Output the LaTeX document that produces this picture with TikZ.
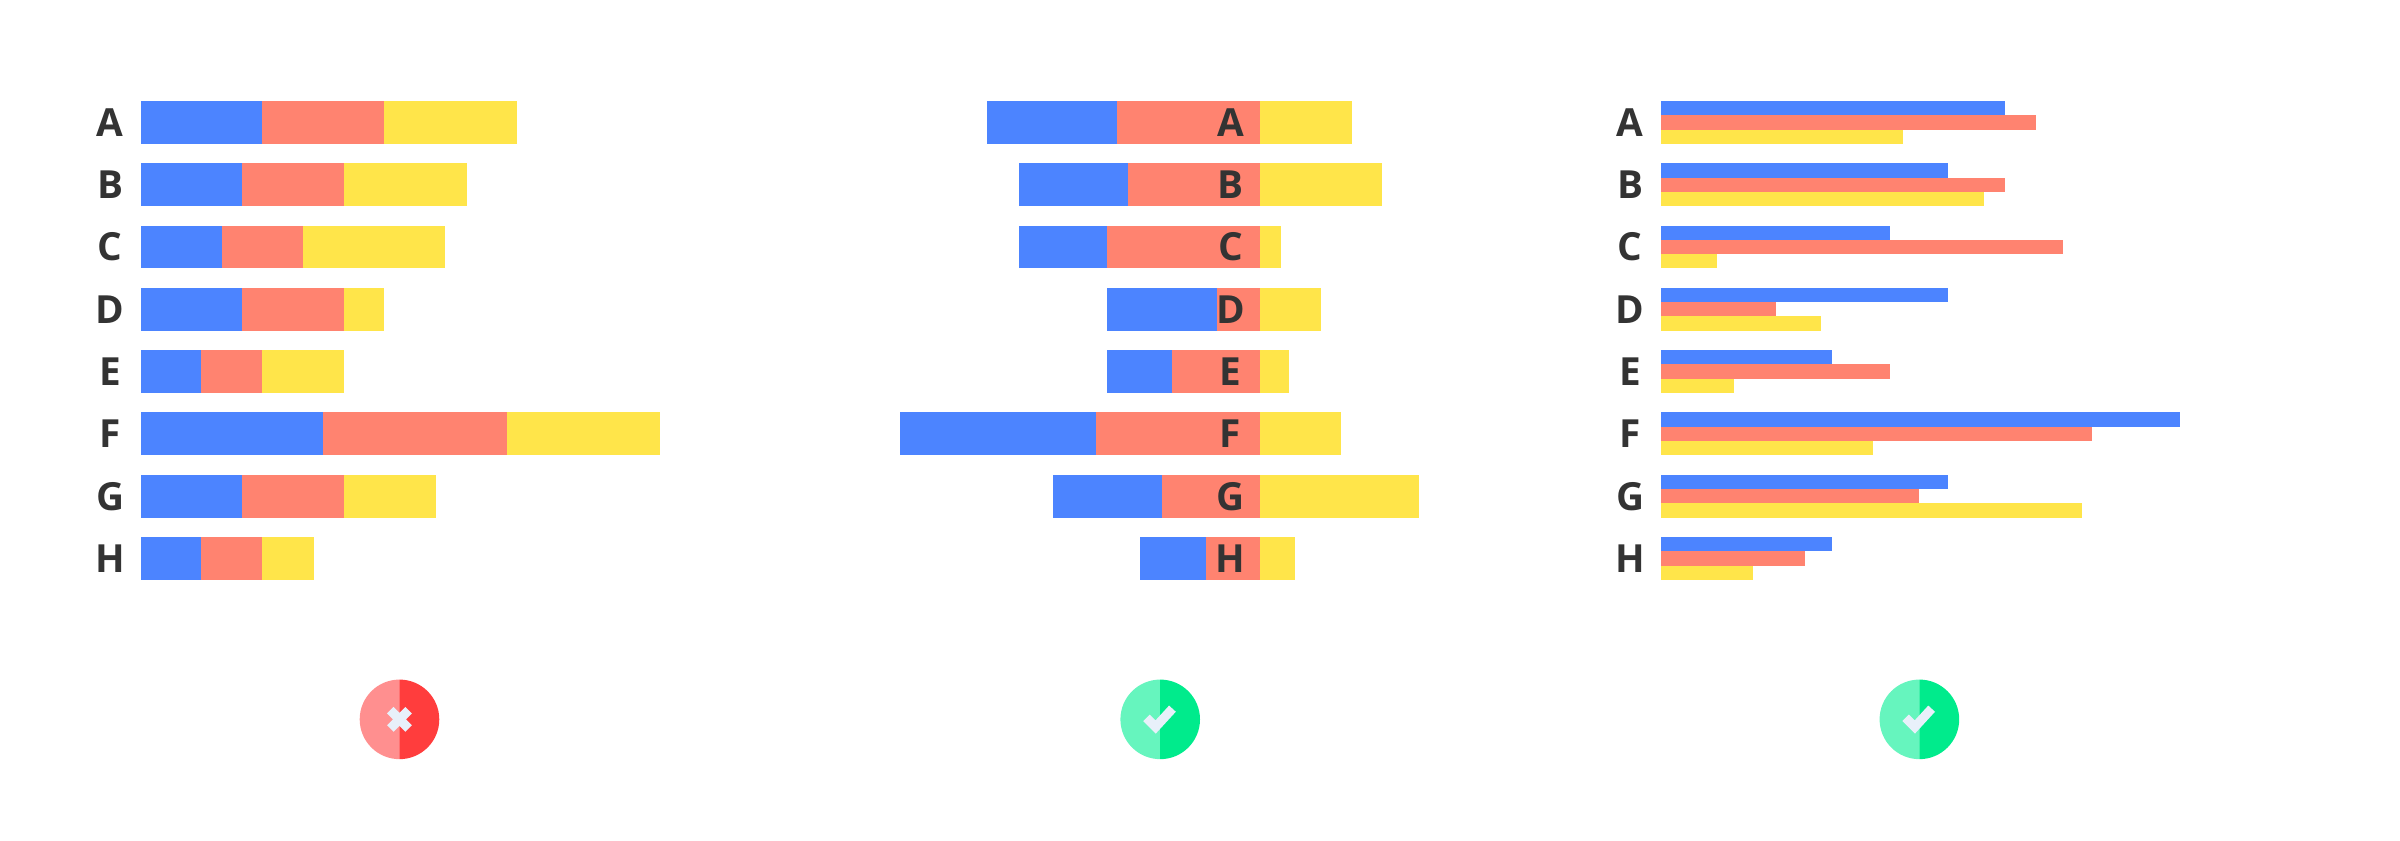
\documentclass[tikz,border=0pt]{standalone}
\usepackage{fontspec}
\setmainfont{Open Sans}
\usepackage{xcolor}
\definecolor{cb}{HTML}{4C84FF}
\definecolor{cr}{HTML}{FF8370}
\definecolor{cy}{HTML}{FFE54A}
\definecolor{txt}{HTML}{333333}
\definecolor{redl}{HTML}{FF8F8F}
\definecolor{redd}{HTML}{FF3D3D}
\definecolor{grnl}{HTML}{66F5BE}
\definecolor{grnd}{HTML}{00EB8C}
\definecolor{mkc}{HTML}{E8F0FA}
\begin{document}
\begin{tikzpicture}[x=0.1mm,y=-0.1mm,
  lbl/.style={font=\bfseries\fontsize{7.2}{8}\selectfont,text=txt,inner sep=0pt},%
  mk/.style={draw=mkc,line width=1.7pt},%
  ]
  \useasboundingbox (0,0) rectangle (1568,549);
  % stacked bars
  \foreach \n/\b/\r/\yy [count=\i from 0] in {A/171/251/338,B/158/225/305,C/145/198/291,D/158/225/251,E/131/171/225,F/211/331/431,G/158/225/285,H/131/171/205}{
    \pgfmathsetmacro{\t}{66+40.7*\i}
    \fill[cb] (92,\t) rectangle (\b,\t+28);
    \fill[cr] (\b,\t) rectangle (\r,\t+28);
    \fill[cy] (\r,\t) rectangle (\yy,\t+28);
    \node[lbl] (l1\n) at (72,\t+14) {\n};
  }
  % diverging bars
  \foreach \n/\b/\r/\yy [count=\i from 0] in {A/645/730/883,B/666/737/903,C/666/723/837,D/723/795/863,E/723/766/842,F/588/716/876,G/688/759/927,H/745/788/846}{
    \pgfmathsetmacro{\t}{66+40.7*\i}
    \fill[cb] (\b,\t) rectangle (\r,\t+28);
    \fill[cr] (\r,\t) rectangle (823,\t+28);
    \fill[cy] (823,\t) rectangle (\yy,\t+28);
    \node[lbl] (l2\n) at (804,\t+14) {\n};
  }
  % grouped bars
  \foreach \n/\b/\r/\yy [count=\i from 0] in {A/1310/1330/1243,B/1273/1310/1296,C/1235/1348/1122,D/1273/1160/1190,E/1197/1235/1133,F/1424/1367/1224,G/1273/1254/1360,H/1197/1179/1145}{
    \pgfmathsetmacro{\t}{66+40.7*\i}
    \fill[cb] (1085,\t) rectangle (\b,\t+9.33);
    \fill[cr] (1085,\t+9.33) rectangle (\r,\t+18.67);
    \fill[cy] (1085,\t+18.67) rectangle (\yy,\t+28);
    \node[lbl] (l3\n) at (1065,\t+14) {\n};
  }
  % badges
  \fill[redl] (261,496) arc (90:270:26) -- cycle;
  \fill[redd] (261,496) arc (90:-90:26) -- cycle;
  \draw[mk] (255,464) -- (267,476) (267,464) -- (255,476);
  \foreach \cx in {758,1254}{
    \fill[grnl] (\cx,496) arc (90:270:26) -- cycle;
    \fill[grnd] (\cx,496) arc (90:-90:26) -- cycle;
    \draw[mk] (\cx-9,469) -- (\cx-3,475) -- (\cx+8,463);
  }
\end{tikzpicture}
\end{document}
